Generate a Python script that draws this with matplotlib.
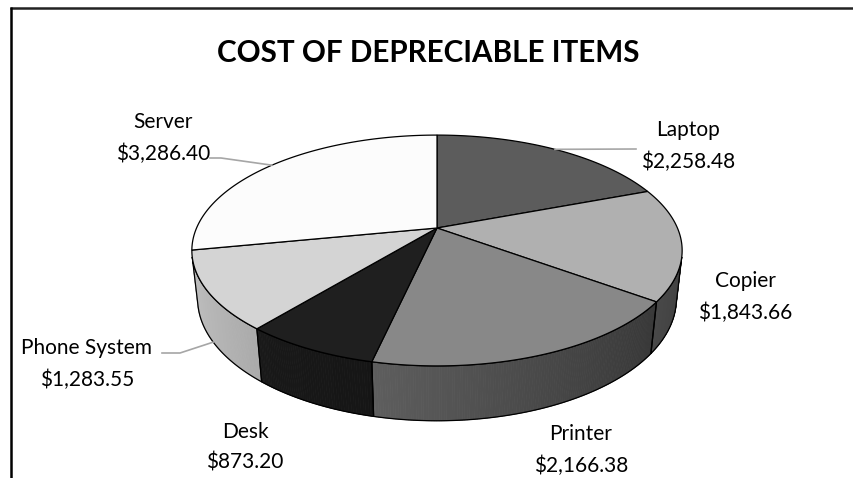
import numpy as np
import matplotlib
matplotlib.use("Agg")
import matplotlib.pyplot as plt
from matplotlib.patches import Polygon

# datos del grafico
items = ['Laptop', 'Copier', 'Printer', 'Desk', 'Phone System', 'Server']
costs = [2258.48, 1843.66, 2166.38, 873.20, 1283.55, 3286.40]
grises = [92, 176, 136, 31, 212, 252]          # tono de la cara superior
label_xy = [(688, 146), (745, 297), (581, 450), (245, 447), (87, 364), (163, 138)]
leaders = {'Laptop': [(636, 149)], 'Server': [(210, 158), (221, 158)],
           'Phone System': [(162, 353), (180, 353)]}
leader_on_bottom = ['Phone System']

# camara (perspectiva)
F = 1094.0
D = 4.55
alpha = np.radians(27.5)
t = 0.228
cx, cy = 437, 228


def proyectar(theta, Y=0.0):
    # theta en grados, sentido horario desde las 12
    th = np.radians(theta)
    X = np.sin(th)
    Z = np.cos(th)
    yc = Y * np.cos(alpha) + Z * np.sin(alpha)
    zc = -Y * np.sin(alpha) + Z * np.cos(alpha) + D
    return cx + F * X / zc, cy - F * yc / zc


def gris(v):
    v = max(0, min(255, int(round(v))))
    return '#%02x%02x%02x' % (v, v, v)


fig = plt.figure(figsize=(8.54, 4.78), dpi=100)
ax = fig.add_axes([0, 0, 1, 1])
ax.set_xlim(0, 854)
ax.set_ylim(478, 0)
ax.axis('off')

total = sum(costs)
bordes = np.concatenate([[0], np.cumsum(costs) / total * 360])

# limite visible del costado
lim = np.degrees(np.arccos(-1 / (D * np.cos(alpha))))
vis0, vis1 = lim, 360 - lim

# costados
for i in range(len(items)):
    a0 = max(bordes[i], vis0)
    a1 = min(bordes[i + 1], vis1)
    if a1 <= a0:
        continue
    angs = np.linspace(a0, a1, max(int((a1 - a0) * 2), 2))
    for k in range(len(angs) - 1):
        m = (angs[k] + angs[k + 1]) / 2
        f = 0.63 - 0.27 * np.sin(np.radians(m))
        p = [proyectar(angs[k]), proyectar(angs[k + 1]),
             proyectar(angs[k + 1], -t), proyectar(angs[k], -t)]
        ax.add_patch(Polygon(p, closed=True, fc=gris(grises[i] * f),
                             ec=gris(grises[i] * f), lw=0.6, zorder=1))
    contorno = [proyectar(a) for a in angs] + [proyectar(a, -t) for a in angs[::-1]]
    ax.add_patch(Polygon(contorno, closed=True, fill=False, ec='black', lw=0.9, zorder=2))

# cara superior
for i in range(len(items)):
    angs = np.linspace(bordes[i], bordes[i + 1], 200)
    p = [(cx, cy)] + [proyectar(a) for a in angs]
    ax.add_patch(Polygon(p, closed=True, fc=gris(grises[i]), ec='black', lw=0.9, zorder=3))

# etiquetas
for i, nombre in enumerate(items):
    x, y = label_xy[i]
    ax.text(x, y, f"{nombre}\n${costs[i]:,.2f}", ha='center', va='center',
            fontsize=15, family='Lato', linespacing=1.68, zorder=5)
    if nombre in leaders:
        m = (bordes[i] + bordes[i + 1]) / 2
        ancla = proyectar(m, -t if nombre in leader_on_bottom else 0)
        pts = leaders[nombre] + [ancla]
        ax.plot([q[0] for q in pts], [q[1] for q in pts], color='#a6a6a6', lw=1.2, zorder=4)

ax.text(428, 53, 'COST OF DEPRECIABLE ITEMS', ha='center', va='center',
        fontsize=21.3, fontweight='bold', family='Lato')

# marco del grafico
ax.plot([10, 854], [7.5, 7.5], color='#222222', lw=1.8, solid_capstyle='butt')
ax.plot([11, 11], [7, 478], color='black', lw=1.8, solid_capstyle='butt')

fig.savefig('out.png', dpi=100)
